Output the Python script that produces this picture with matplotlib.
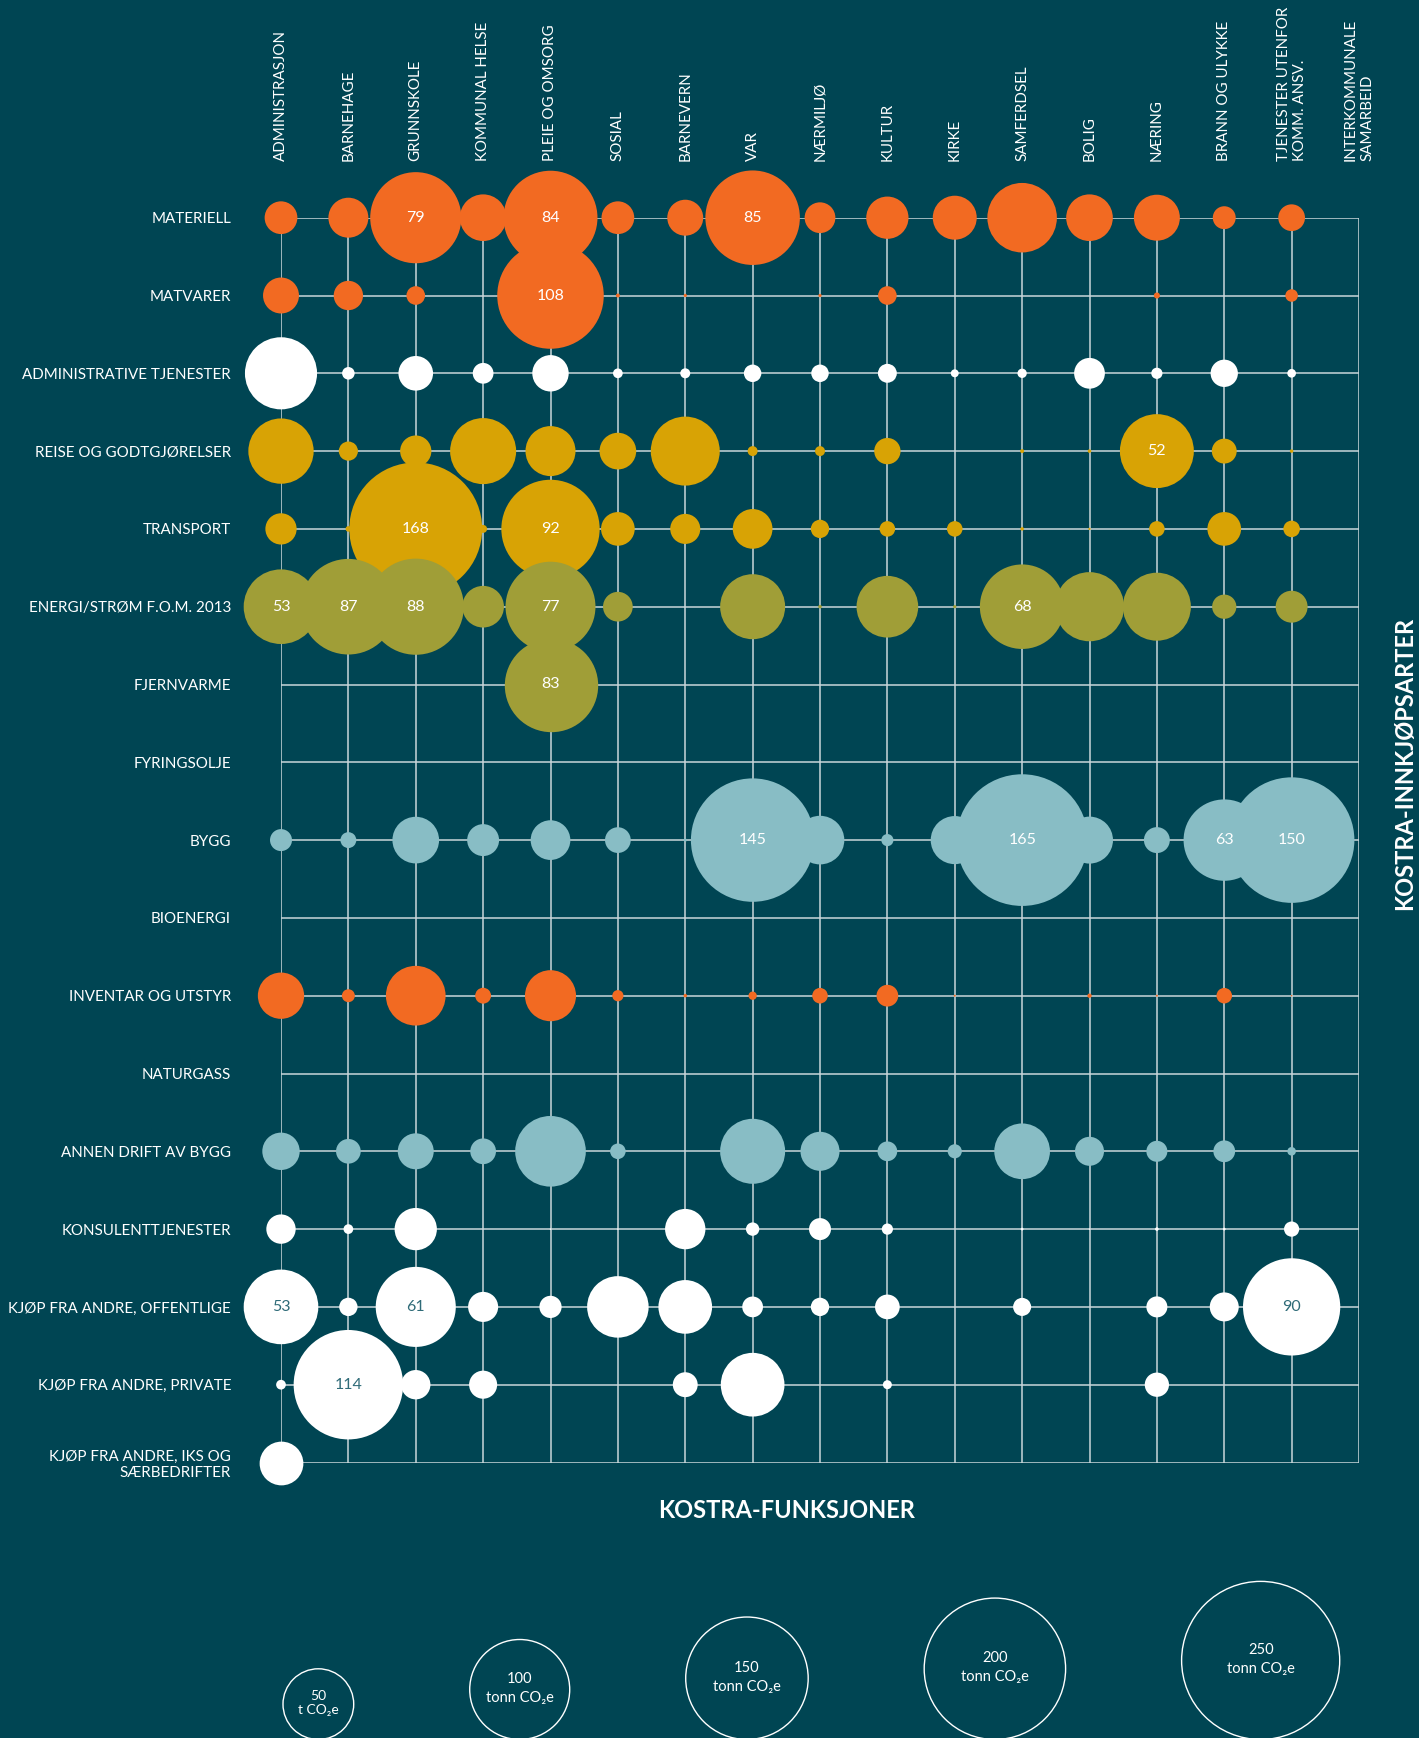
import matplotlib
matplotlib.use("Agg")
import matplotlib.pyplot as plt
import numpy as np

plt.rcParams['font.family'] = ['Lato', 'DejaVu Sans']

# ---------------- data ----------------
functions = ["ADMINISTRASJON", "BARNEHAGE", "GRUNNSKOLE", "KOMMUNAL HELSE",
             "PLEIE OG OMSORG", "SOSIAL", "BARNEVERN", "VAR", "NÆRMILJØ",
             "KULTUR", "KIRKE", "SAMFERDSEL", "BOLIG", "NÆRING",
             "BRANN OG ULYKKE", "TJENESTER UTENFOR\nKOMM. ANSV.",
             "INTERKOMMUNALE\nSAMARBEID"]

purchase_types = ["MATERIELL", "MATVARER", "ADMINISTRATIVE TJENESTER",
                  "REISE OG GODTGJØRELSER", "TRANSPORT",
                  "ENERGI/STRØM F.O.M. 2013", "FJERNVARME", "FYRINGSOLJE",
                  "BYGG", "BIOENERGI", "INVENTAR OG UTSTYR", "NATURGASS",
                  "ANNEN DRIFT AV BYGG", "KONSULENTTJENESTER",
                  "KJØP FRA ANDRE, OFFENTLIGE", "KJØP FRA ANDRE, PRIVATE",
                  "KJØP FRA ANDRE, IKS OG\nSÆRBEDRIFTER"]

# tonn CO2e per (purchase type, function)
materiell   = [10.2, 15.2, 79, 20.7, 84, 10.2, 12.3, 85, 9, 17, 18.4, 46, 20.7, 20.1, 5.0, 6.8, 0]
matvarer    = [12.3, 8.2, 3.3, 0, 108, 0.15, 0.1, 0, 0.1, 3.3, 0, 0, 0, 0.35, 0, 1.5, 0]
admin_tj    = [49.5, 1.5, 11.4, 4.1, 12.6, 0.9, 0.95, 2.9, 2.9, 3.4, 0.6, 0.83, 9, 1.2, 7.1, 0.72, 0]
reise       = [40.6, 3.5, 9.3, 41.5, 23.8, 12.8, 45.3, 0.95, 0.95, 6.6, 0, 0.15, 0.12, 52, 5.9, 0.12, 0]
transport   = [9.3, 0.3, 168, 0.6, 92, 10.8, 8.6, 15, 3.2, 2.3, 2.3, 0.12, 0.05, 2.3, 10.8, 2.6, 0]
energi      = [53, 87, 88, 16.5, 77, 8.4, 0, 40.2, 0.12, 36.2, 0.1, 68, 45.5, 44, 5.6, 9.7, 0]
fjernvarme  = [0, 0, 0, 0, 83, 0, 0, 0, 0, 0, 0, 0, 0, 0, 0, 0, 0]
fyringsolje = [0] * 17
bygg        = [4.6, 2.4, 20.7, 9.7, 15, 6.3, 0.1, 145, 22.5, 1.4, 22, 165, 21, 6.4, 63, 150, 0]
bioenergi   = [0] * 17
inventar    = [20.4, 1.6, 33.9, 2.4, 24.8, 1.2, 0.12, 0.66, 2.3, 4.5, 0.04, 0, 0.18, 0.04, 2.3, 0.02, 0]
naturgass   = [0] * 17
annen_drift = [13.3, 5.8, 12.3, 6.3, 47.5, 2.3, 0, 40.2, 14.5, 3.7, 1.9, 29.5, 8, 4.2, 4.5, 0.7, 0]
konsulent   = [8.2, 0.9, 17, 0, 0.02, 0.02, 15.5, 1.7, 4.6, 1.2, 0, 0.07, 0.02, 0.12, 0.07, 2.2, 0]
kjop_off    = [53, 3.2, 61, 8.6, 4.7, 36, 27.4, 4.1, 3.2, 5.8, 0, 3.1, 0, 4.2, 8, 90, 0]
kjop_priv   = [0.9, 114, 8.2, 7.5, 0, 0, 5.9, 38.6, 0, 0.77, 0, 0, 0, 5.6, 0, 0, 0]
kjop_iks    = [18.2, 0, 0, 0, 0, 0, 0, 0, 0, 0, 0, 0, 0, 0, 0, 0, 0]

values = [materiell, matvarer, admin_tj, reise, transport, energi, fjernvarme,
          fyringsolje, bygg, bioenergi, inventar, naturgass, annen_drift,
          konsulent, kjop_off, kjop_priv, kjop_iks]

legend_values = [50, 100, 150, 200, 250]
label_threshold = 52

# ---------------- style ----------------
BG = '#004553'
GRID = '#c9d7da'
ORANGE = '#F26A22'
GOLD = '#D8A305'
OLIVE = '#A09E37'
BLUE = '#88BDC5'
WHITE = '#FFFFFF'
DARKTXT = '#2f6b78'

row_colors = [ORANGE, ORANGE, WHITE, GOLD, GOLD, OLIVE, OLIVE, OLIVE, BLUE,
              OLIVE, ORANGE, OLIVE, BLUE, WHITE, WHITE, WHITE, WHITE]

W, H = 1419, 1738
DPI = 100
PX_PER_SQRT = 10.25          # bubble diameter in px per sqrt(tonn)
PT = 72.0 / DPI              # points per px
S_SCALE = (PX_PER_SQRT * PT) ** 2
LABEL_FS = 10.9

fig = plt.figure(figsize=(W / DPI, H / DPI), dpi=DPI)
fig.patch.set_facecolor(BG)

x0, x1 = 281, 1359
y0, y1 = 217.7, 1462.5
ax = fig.add_axes([x0 / W, 1 - y1 / H, (x1 - x0) / W, (y1 - y0) / H])
ax.set_facecolor(BG)
ncol, nrow = len(functions), len(purchase_types)
ax.set_xlim(0, ncol - 1)
ax.set_ylim(nrow - 1, 0)
for sp in ax.spines.values():
    sp.set_visible(False)

ax.vlines(range(ncol), 0, nrow - 1, color=GRID, lw=1.1, zorder=1)
ax.hlines(range(nrow), 0, ncol - 1, color=GRID, lw=1.1, zorder=1)

for r, row in enumerate(values):
    v = np.asarray(row, dtype=float)
    idx = np.nonzero(v > 0)[0]
    if len(idx) == 0:
        continue
    ax.scatter(idx, np.full(len(idx), r), s=v[idx] * S_SCALE,
               color=row_colors[r], linewidths=0, clip_on=False,
               zorder=3 + r * 0.01)
    for c in idx:
        if v[c] >= label_threshold:
            tc = DARKTXT if row_colors[r] == WHITE else 'white'
            ax.text(c, r, f"{v[c]:g}", ha='center', va='center',
                    fontsize=11.5, color=tc, zorder=5)

ax.xaxis.tick_top()
ax.set_xticks(range(ncol))
ax.set_xticklabels(functions, rotation=90, fontsize=LABEL_FS, color='white')
for lab in ax.get_xticklabels():
    lab.set_multialignment('left')
ax.set_yticks(range(nrow))
ax.set_yticklabels(purchase_types, fontsize=LABEL_FS, color='white')
for lab in ax.get_yticklabels():
    lab.set_multialignment('right')
ax.tick_params(axis='x', length=0, pad=57 * PT)
ax.tick_params(axis='y', length=0, pad=50 * PT)

fig.text(787 / W, 1 - 1511 / H, "KOSTRA-FUNKSJONER", fontweight='bold',
         fontsize=17, color='white', ha='center', va='center')
fig.text(1404.6 / W, 1 - 763 / H, "KOSTRA-INNKJØPSARTER", fontweight='bold',
         fontsize=17, color='white', ha='center', va='center', rotation=90)

# ---------------- size legend ----------------
LH = 200
lax = fig.add_axes([0, 0, 1, LH / H])
lax.set_xlim(0, W)
lax.set_ylim(0, LH)
lax.axis('off')
LEG_PX = 10.0
gap = 116
left = 283
for v in legend_values:
    d = LEG_PX * np.sqrt(v)
    cx = left + d / 2
    cy = d / 2 - 1.5
    lax.scatter([cx], [cy], s=(d * PT) ** 2, facecolors='none',
                edgecolors='white', linewidths=1.0, clip_on=False)
    unit = "t CO₂e" if v == 50 else "tonn CO₂e"
    lax.text(cx, cy + 1, f"{v}\n{unit}", ha='center', va='center',
             color='white', fontsize=10.5 if v > 50 else 10,
             linespacing=1.45 if v > 50 else 1.2)
    left = cx + d / 2 + gap

fig.savefig("out.png", dpi=DPI, facecolor=BG)
